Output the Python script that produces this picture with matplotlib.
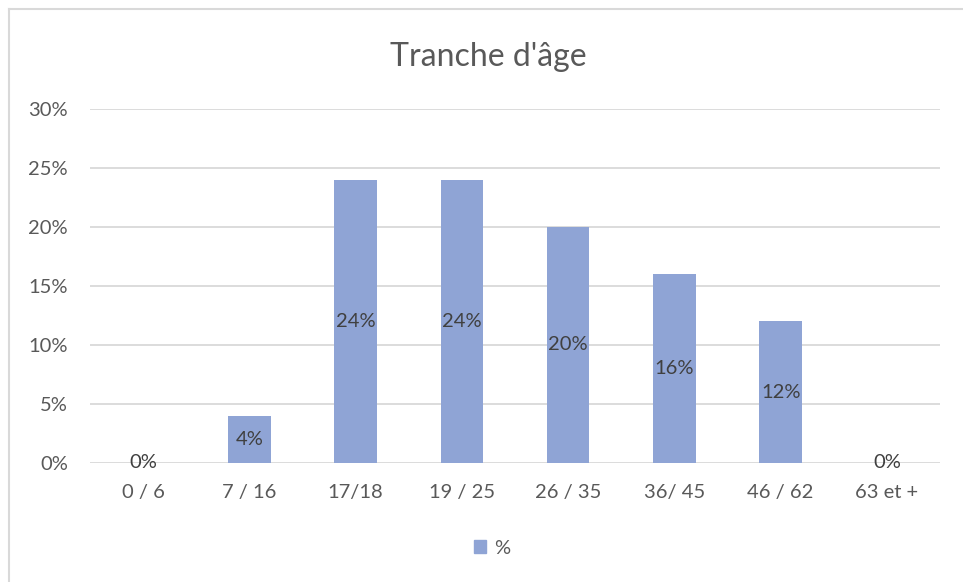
import matplotlib.pyplot as plt
from matplotlib.patches import Rectangle

plt.rcParams['font.family'] = ['Lato', 'DejaVu Sans']

categories = ["0 / 6", "7 / 16", "17/18", "19 / 25", "26 / 35", "36/ 45", "46 / 62", "63 et +"]
values = [0, 4, 24, 24, 20, 16, 12, 0]
labels = ["0%", "4%", "24%", "24%", "20%", "16%", "12%", "0%"]
yticks = [0, 5, 10, 15, 20, 25, 30]

BAR_COLOR = '#8FA4D5'
TEXT_COLOR = '#595959'
GRID_COLOR = '#D9D9D9'

fig = plt.figure(figsize=(9.63, 5.82), dpi=100)
ax = fig.add_axes([90 / 963, 1 - 463 / 582, 850 / 963, (463 - 109) / 582])

x = range(len(categories))
bars = ax.bar(x, values, width=0.4, color=BAR_COLOR, zorder=2)
for xi, v, lab in zip(x, values, labels):
    ax.text(xi, v / 2, lab, ha='center', va='center', fontsize=14.5,
            color='#404040', zorder=3)

ax.set_xlim(-0.5, len(categories) - 0.5)
ax.set_ylim(0, 30)
ax.set_yticks(yticks)
ax.set_yticklabels([f"{t}%" for t in yticks])
ax.set_xticks(list(x))
ax.set_xticklabels(categories)
ax.tick_params(length=0, labelsize=14.5, colors=TEXT_COLOR)
ax.tick_params(axis='y', pad=16)
ax.tick_params(axis='x', pad=15)
ax.grid(axis='y', color=GRID_COLOR, linewidth=1.3, zorder=0)
for s in ax.spines.values():
    s.set_visible(False)

fig.text(488 / 963, 1 - 57 / 582, "Tranche d'âge", ha='center', va='center',
         fontsize=23, color=TEXT_COLOR)

leg = ax.legend([Rectangle((0, 0), 1, 1, color=BAR_COLOR)], ["%"],
                loc='center', bbox_to_anchor=(492 / 963, 1 - 548 / 582),
                bbox_transform=fig.transFigure, frameon=False, fontsize=14.5,
                handlelength=0.6, handleheight=0.6, handletextpad=0.4)
for t in leg.get_texts():
    t.set_color(TEXT_COLOR)

# chart area border (partially visible)
fig.add_artist(plt.Line2D([9 / 963, 9 / 963], [0, 1 - 9 / 582], transform=fig.transFigure,
                          color='#D9D9D9', linewidth=1.5))
fig.add_artist(plt.Line2D([9 / 963, 1], [1 - 9 / 582, 1 - 9 / 582], transform=fig.transFigure,
                          color='#D9D9D9', linewidth=1.5))

fig.savefig('out.png', dpi=100, facecolor='white')
